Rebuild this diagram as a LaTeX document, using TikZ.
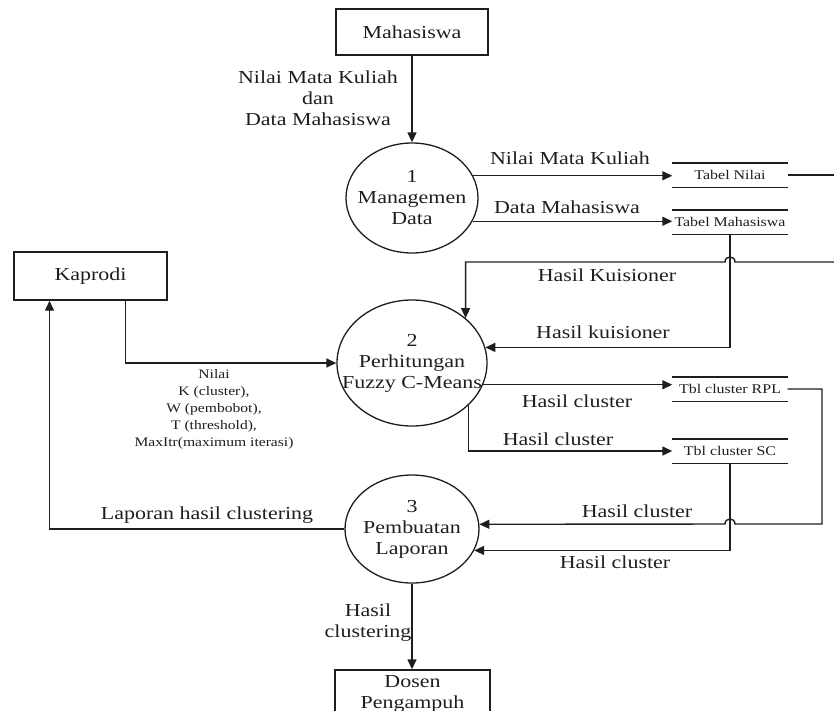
\documentclass[tikz,border=0pt]{standalone}
\usepackage{fontspec}
\setmainfont{Liberation Serif}[FakeStretch=1.2]
\usetikzlibrary{shapes.geometric,arrows.meta,calc}
\definecolor{ink}{RGB}{30,30,30}
\tikzset{
  base/.style={font=\fontsize{18.3}{21}\selectfont, text=ink},
  ent/.style={draw=ink, line width=1.4pt, minimum width=152pt, minimum height=46pt, inner sep=0pt, align=center, base},
  proc/.style={draw=ink, ellipse, line width=1.3pt, inner sep=0pt},
  store/.style={minimum width=115pt, minimum height=24pt, inner sep=0pt, font=\fontsize{13.3}{15}\selectfont, text=ink},
  flow/.style={draw=ink, line width=1.4pt, -{Triangle[length=10pt,width=9pt]}},
  plain/.style={draw=ink, line width=1.4pt},
  lab/.style={base, inner sep=0pt, align=center},
  slab/.style={font=\fontsize{13}{17}\selectfont, text=ink, inner sep=0pt, align=center},
}
\begin{document}
\begin{tikzpicture}[x=1pt,y=-1pt]
\useasboundingbox (0,0) rectangle (834,710);
\clip (0,0) rectangle (834,710);
% external entities
\node[ent] (mhs) at (412,32) {Mahasiswa};
\node[ent, minimum width=153pt, minimum height=48pt] (kap) at (90.5,276) {Kaprodi};
\node[ent, minimum width=155pt, minimum height=48pt] (dos) at (412.5,694) {Dosen\\Pengampuh};
% processes
\node[proc, minimum width=132pt, minimum height=110pt] (c1) at (412,198) {};
\node[lab] (t1) at (c1) {1\\Managemen\\Data};
\node[proc, minimum width=150pt, minimum height=126pt] (c2) at (412,363) {};
\node[lab] (t2) at (c2) {2\\Perhitungan\\Fuzzy C-Means};
\node[proc, minimum width=134pt, minimum height=108pt] (c3) at (412,529) {};
\node[lab] (t3) at (c3) {3\\Pembuatan\\Laporan};
% data stores
\node[store] (tn) at (730,175) {Tabel Nilai};
\node[store] (tm) at (730,222) {Tabel Mahasiswa};
\node[store] (rpl) at (730,389) {Tbl cluster RPL};
\node[store] (sc) at (730,451) {Tbl cluster SC};
\foreach \s in {tn,tm,rpl,sc}
  \draw[plain] (\s.north west) -- (\s.north east) (\s.south west) -- (\s.south east);
% free ends and routing points
\coordinate (tnout) at (834,175);
\coordinate (hkin) at (834,262);
\coordinate (hkj1) at (735,262);
\coordinate (hkj2) at (725,262);
\coordinate (rc) at (822,524);
\coordinate (cj1) at (735,524);
\coordinate (cj2) at (725,524);
% connectors
\draw[flow] (mhs.south) -- (c1.north);
\draw[flow] (c1.20) -- (c1.20 -| tn.west);
\draw[flow] (c1.-21) -- (c1.-21 -| tm.west);
\draw[plain] (tn.east) -- (tnout);
\draw[flow] (hkin) -- (hkj1) .. controls (735,255.3) and (725,255.3) .. (hkj2) -| (c2.40);
\draw[flow] (tm.south) |- (c2.12);
\draw[flow] ([xshift=35pt]kap.south) |- (c2.west);
\draw[flow] (c2.-17) -- (c2.-17 -| rpl.west);
\draw[flow] (c2.-37) |- (sc.west);
\draw[flow] (rpl.east) -| (rc) -- (cj1) .. controls (735,517.3) and (725,517.3) .. (cj2) -- (c3.4);
\draw[flow] (sc.south) |- (c3.-19);
\draw[flow] (c3.west) -| ([xshift=-41pt]kap.south);
\draw[flow] (c3.south) -- (c3.south |- dos.north);
% labels
\node[lab] (l1) at (318,98) {Nilai Mata Kuliah\\dan\\Data Mahasiswa};
\node[lab] (l2) at (570,158) {Nilai Mata Kuliah};
\node[lab] (l3) at (567,207) {Data Mahasiswa};
\node[lab] (l4) at (607,275) {Hasil Kuisioner};
\node[lab] (l5) at (603,332) {Hasil kuisioner};
\node[slab] (l6) at (214,409) {Nilai\\K (cluster),\\W (pembobot),\\T (threshold),\\MaxItr(maximum iterasi)};
\node[lab] (l7) at (577,401) {Hasil cluster};
\node[lab] (l8) at (558,439) {Hasil cluster};
\node[lab] (l9) at (637,511) {Hasil cluster};
\node[lab] (l10) at (615,562) {Hasil cluster};
\node[lab] (l11) at (207,515) {Laporan hasil clustering};
\node[lab] (l12) at (368,623) {Hasil\\clustering};
\end{tikzpicture}
\end{document}
